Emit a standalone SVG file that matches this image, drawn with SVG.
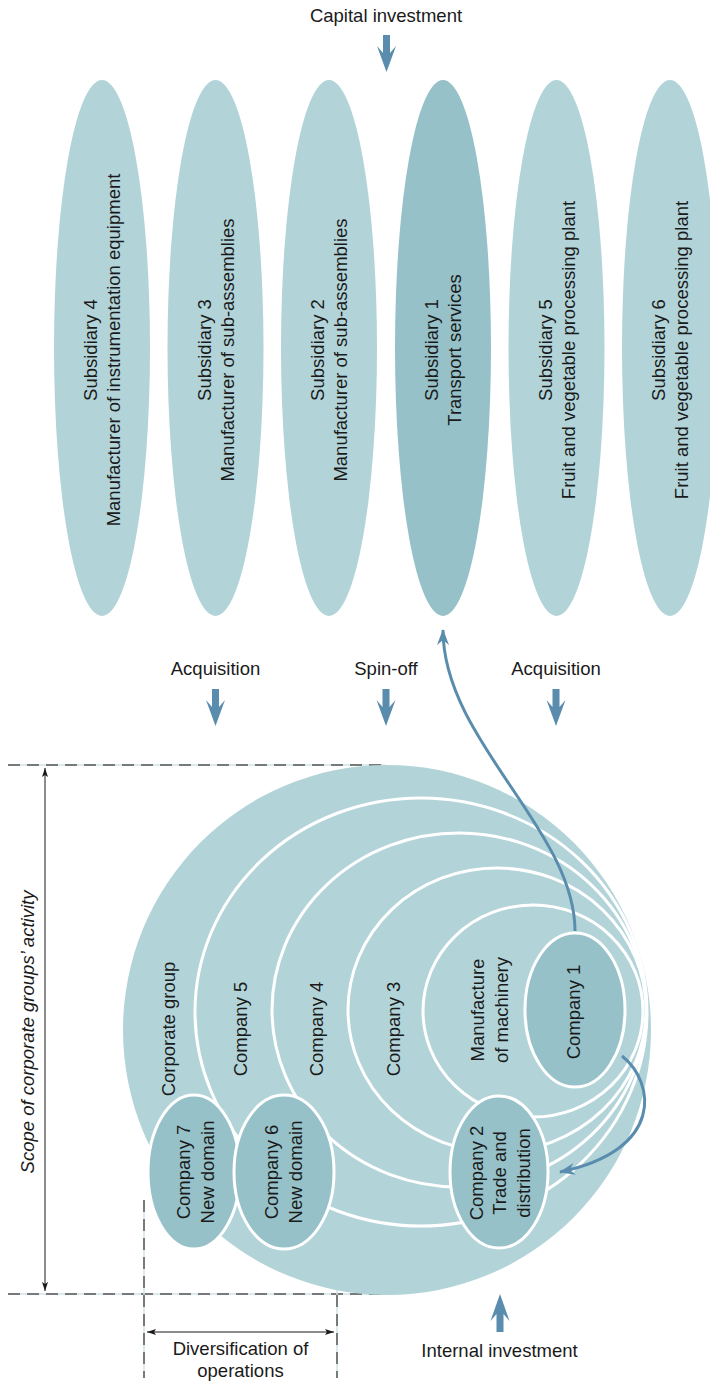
<svg xmlns="http://www.w3.org/2000/svg" width="710" height="1384" viewBox="0 0 710 1384">
<defs>
<style>
text{font-family:"Liberation Sans",Arial,Helvetica,sans-serif;font-size:18.5px;fill:#1a1a1a;text-anchor:middle}
.lt{fill:#b2d4d9}
.dk{fill:#96c1c8}
.ring{fill:#b2d4d9;stroke:#fff;stroke-width:3}
.node{fill:#96c1c8;stroke:#fff;stroke-width:3}
.blk{fill:#5a8cad}
.curve{fill:none;stroke:#5a8cad;stroke-width:3}
.dash{stroke:#555;stroke-width:1.5;stroke-dasharray:12 7;fill:none}
.dashbg{stroke:#cfe4e7;stroke-width:1.5;fill:none}
.dim{stroke:#1a1a1a;stroke-width:1;fill:none}
</style>
<marker id="bh" markerUnits="userSpaceOnUse" markerWidth="18" markerHeight="14" refX="15" refY="7" orient="auto">
<path d="M0,1 L16,7 L0,13 L5,7 z" fill="#5a8cad"/>
</marker>
<marker id="dh" markerUnits="userSpaceOnUse" markerWidth="10" markerHeight="8" refX="9" refY="4" orient="auto-start-reverse">
<path d="M0,1 L9,4 L0,7 L2,4 z" fill="#1a1a1a"/>
</marker>
</defs>

<g id="label-capital">
<text x="386" y="22">Capital investment</text>
<path class="blk" d="M383,35 H390 V53 L396,46 L386.5,72 L377,46 L383,53 Z"/>
</g>

<g id="sub4">
<ellipse class="lt" cx="102" cy="348" rx="48" ry="268"/>
<g transform="translate(102,350) rotate(-90)"><text y="-5">Subsidiary 4</text><text y="18">Manufacturer of instrumentation equipment</text></g>
</g>
<g id="sub3">
<ellipse class="lt" cx="215.5" cy="348" rx="48" ry="268"/>
<g transform="translate(215.5,350) rotate(-90)"><text y="-5">Subsidiary 3</text><text y="18">Manufacturer of sub-assemblies</text></g>
</g>
<g id="sub2">
<ellipse class="lt" cx="329" cy="348" rx="48" ry="268"/>
<g transform="translate(329,350) rotate(-90)"><text y="-5">Subsidiary 2</text><text y="18">Manufacturer of sub-assemblies</text></g>
</g>
<g id="sub1">
<ellipse class="dk" cx="443" cy="348" rx="48" ry="268"/>
<g transform="translate(443,350) rotate(-90)"><text y="-5">Subsidiary 1</text><text y="18">Transport services</text></g>
</g>
<g id="sub5">
<ellipse class="lt" cx="556.5" cy="348" rx="48" ry="268"/>
<g transform="translate(556.5,350) rotate(-90)"><text y="-5">Subsidiary 5</text><text y="18">Fruit and vegetable processing plant</text></g>
</g>
<g id="sub6">
<ellipse class="lt" cx="670" cy="348" rx="48" ry="268"/>
<g transform="translate(670,350) rotate(-90)"><text y="-5">Subsidiary 6</text><text y="18">Fruit and vegetable processing plant</text></g>
</g>

<g id="label-acq1">
<text x="215.5" y="675">Acquisition</text>
<path class="blk" d="M212,689 H219 V707 L225,700 L215.5,726 L206,700 L212,707 Z"/>
</g>
<g id="label-spin">
<text x="386" y="675">Spin-off</text>
<path class="blk" d="M382.5,689 H389.5 V707 L395.5,700 L386,726 L376.5,700 L382.5,707 Z"/>
</g>
<g id="label-acq2">
<text x="556" y="675">Acquisition</text>
<path class="blk" d="M552.5,689 H559.5 V707 L565.5,700 L556,726 L546.5,700 L552.5,707 Z"/>
</g>

<g id="guides">
<line class="dashbg" x1="8" y1="765" x2="385" y2="765"/>
<line class="dash" x1="8" y1="765" x2="385" y2="765"/>
<line class="dashbg" x1="8" y1="1294" x2="385" y2="1294"/>
<line class="dash" x1="8" y1="1294" x2="385" y2="1294"/>
<line class="dashbg" x1="144" y1="1200" x2="144" y2="1378"/>
<line class="dash" x1="144" y1="1200" x2="144" y2="1378"/>
<line class="dashbg" x1="337" y1="1200" x2="337" y2="1378"/>
<line class="dash" x1="337" y1="1200" x2="337" y2="1378"/>
</g>

<g id="group">
<ellipse class="lt" cx="387" cy="1030" rx="264" ry="265"/>
<text transform="translate(168,1029) rotate(-90)" y="6.5">Corporate group</text>
</g>
<g id="company5">
<ellipse class="ring" cx="421" cy="1012" rx="226" ry="214"/>
<text transform="translate(240,1029) rotate(-90)" y="6.5">Company 5</text>
</g>
<g id="company4">
<ellipse class="ring" cx="459" cy="1010" rx="187" ry="177"/>
<text transform="translate(316,1029) rotate(-90)" y="6.5">Company 4</text>
</g>
<g id="company3">
<ellipse class="ring" cx="497" cy="1010" rx="149" ry="142"/>
<text transform="translate(393,1029) rotate(-90)" y="6.5">Company 3</text>
</g>
<g id="machinery">
<ellipse class="ring" cx="533" cy="1011" rx="110" ry="106"/>
<g transform="translate(489,1010) rotate(-90)"><text y="-5.5">Manufacture</text><text y="18.5">of machinery</text></g>
</g>
<g id="company1">
<ellipse class="node" cx="575" cy="1010" rx="50" ry="77"/>
<text transform="translate(573,1012) rotate(-90)" y="6.5">Company 1</text>
</g>
<g id="company2">
<ellipse class="node" cx="499" cy="1172" rx="49" ry="76"/>
<g transform="translate(499,1173) rotate(-90)"><text y="-16.5">Company 2</text><text y="7">Trade and</text><text y="30.5">distribution</text></g>
</g>
<g id="company7">
<ellipse class="node" cx="194" cy="1172" rx="46" ry="77"/>
<g transform="translate(195,1172) rotate(-90)"><text y="-5">Company 7</text><text y="18.5">New domain</text></g>
</g>
<g id="company6">
<ellipse class="node" cx="284" cy="1172" rx="50" ry="77"/>
<g transform="translate(283,1172) rotate(-90)"><text y="-5">Company 6</text><text y="18.5">New domain</text></g>
</g>

<g id="connectors">
<path class="curve" d="M575,931 C575,830 443,740 443,630" marker-end="url(#bh)"/>
<path class="curve" d="M622,1056 C655,1082 665,1150 560,1172" marker-end="url(#bh)"/>
<line class="dim" x1="45" y1="768" x2="45" y2="1291" marker-start="url(#dh)" marker-end="url(#dh)"/>
<line class="dim" x1="147" y1="1332" x2="334" y2="1332" marker-start="url(#dh)" marker-end="url(#dh)"/>
</g>

<g id="label-scope">
<text transform="translate(34,1032) rotate(-90)" font-style="italic">Scope of corporate groups’ activity</text>
</g>
<g id="label-div">
<text x="240.5" y="1355">Diversification of</text>
<text x="240.5" y="1377">operations</text>
</g>
<g id="label-internal">
<path class="blk" d="M496.5,1332 H503.5 V1314 L509.5,1321 L500,1294 L490.5,1321 L496.5,1314 Z"/>
<text x="499.5" y="1357">Internal investment</text>
</g>
</svg>
